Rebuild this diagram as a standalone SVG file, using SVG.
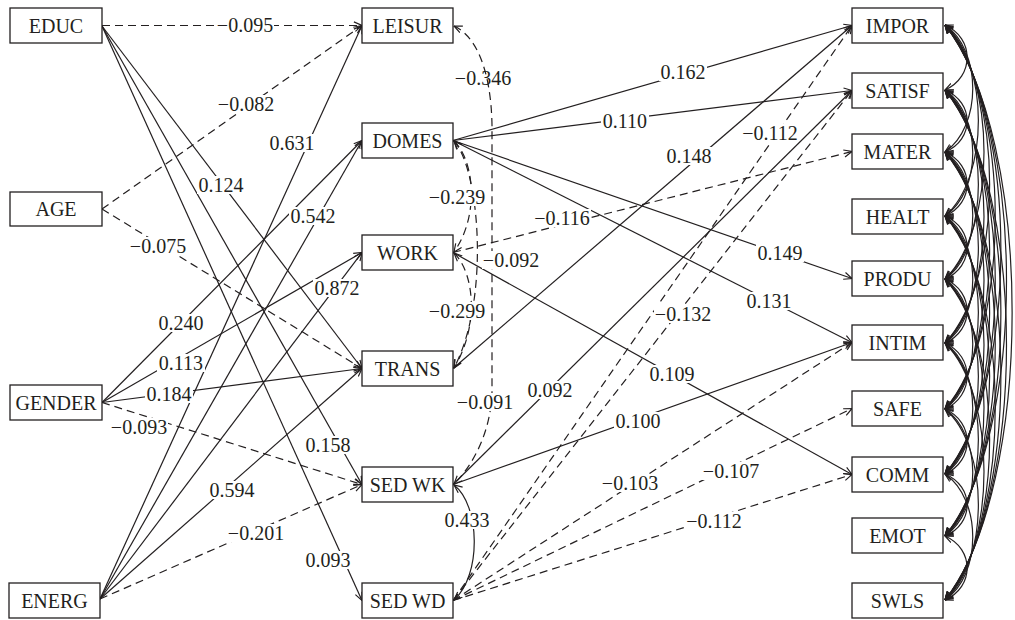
<svg xmlns="http://www.w3.org/2000/svg" width="1015" height="620" viewBox="0 0 1015 620">
<style>
.box{fill:#fff;stroke:#231f20;stroke-width:1.3}
.nt{font-family:"Liberation Serif","Times New Roman",serif;font-size:20px;fill:#231f20;text-anchor:middle}
.e{fill:none;stroke:#231f20;stroke-width:1.2;marker-end:url(#ah)}
.d{stroke-dasharray:8 5}
.b{marker-start:url(#ah)}
.lb{fill:#fff}
</style>
<defs>
<marker id="ah" viewBox="0 0 10 10" refX="9.5" refY="5" markerWidth="9" markerHeight="9" markerUnits="userSpaceOnUse" orient="auto-start-reverse">
<path d="M0.5,1 L9.5,5 L0.5,9" fill="none" stroke="#231f20" stroke-width="1.3"/>
</marker>
</defs>
<rect width="1015" height="620" fill="#fff"/>
<g id="connectors">
<path class="e d" d="M102,25.5 L362,25.5"/>
<path class="e" d="M102,26 L362,368.5"/>
<path class="e" d="M102,26 L362,484.5"/>
<path class="e" d="M102,26 L362,600.5"/>
<path class="e d" d="M102,209 L362,25.5"/>
<path class="e d" d="M102,209 L362,368.5"/>
<path class="e" d="M102,402.5 L362,140.5"/>
<path class="e" d="M102,402.5 L362,252.5"/>
<path class="e" d="M102,402.5 L362,368.5"/>
<path class="e d" d="M102,402.5 L362,484.5"/>
<path class="e" d="M100,599 L362,25.5"/>
<path class="e" d="M100,599 L362,140.5"/>
<path class="e" d="M100,599 L362,252.5"/>
<path class="e" d="M100,599 L362,368.5"/>
<path class="e d" d="M100,599 L362,484.5"/>
<path class="e" d="M453,140.5 L852,25.5"/>
<path class="e" d="M453,140.5 L852,90.5"/>
<path class="e" d="M453,140.5 L852,278.5"/>
<path class="e" d="M453,140.5 L852,342.5"/>
<path class="e d" d="M453,252.5 L852,151.5"/>
<path class="e" d="M453,252.5 L852,474.5"/>
<path class="e" d="M453,368.5 L852,25.5"/>
<path class="e" d="M453,484.5 L852,90.5"/>
<path class="e" d="M453,484.5 L852,342.5"/>
<path class="e d" d="M453,600.5 L852,25.5"/>
<path class="e d" d="M453,600.5 L852,90.5"/>
<path class="e d" d="M453,600.5 L852,342.5"/>
<path class="e d" d="M453,600.5 L852,408.5"/>
<path class="e d" d="M453,600.5 L852,474.5"/>
<path class="e d b" d="M454,26 C476,36 491,70 492,125 L492,392 C491,428 476,462 454,484"/>
<path class="e d b" d="M454,141 C474,160 480,215 454,252"/>
<path class="e d b" d="M454,141 C480,170 490,300 454,368"/>
<path class="e d b" d="M454,253 C474,272 480,325 454,368"/>
<path class="e b" d="M454,485 C480,505 482,575 454,600"/>
<path class="e b" d="M945,25 C974.5,38 974.5,77 945,90"/>
<path class="e b" d="M945,25 C982,50.4 982,126.6 945,152"/>
<path class="e b" d="M945,25 C989.5,63.2 989.5,177.8 945,216"/>
<path class="e b" d="M945,25 C997,75.8 997,228.2 945,279"/>
<path class="e b" d="M945,25 C1004.5,88.6 1004.5,279.4 945,343"/>
<path class="e b" d="M945,25 C1012,101.8 1012,332.2 945,409"/>
<path class="e b" d="M945,25 C1019.5,114.8 1019.5,384.2 945,474"/>
<path class="e b" d="M945,25 C1027,127.2 1027,433.8 945,536"/>
<path class="e b" d="M945,25 C1034.5,140 1034.5,485 945,600"/>
<path class="e b" d="M945,90 C974.5,102.4 974.5,139.6 945,152"/>
<path class="e b" d="M945,90 C982,115.2 982,190.8 945,216"/>
<path class="e b" d="M945,90 C989.5,127.8 989.5,241.2 945,279"/>
<path class="e b" d="M945,90 C997,140.6 997,292.4 945,343"/>
<path class="e b" d="M945,90 C1004.5,153.8 1004.5,345.2 945,409"/>
<path class="e b" d="M945,90 C1012,166.8 1012,397.2 945,474"/>
<path class="e b" d="M945,90 C1019.5,179.2 1019.5,446.8 945,536"/>
<path class="e b" d="M945,90 C1027,192 1027,498 945,600"/>
<path class="e b" d="M945,152 C974.5,164.8 974.5,203.2 945,216"/>
<path class="e b" d="M945,152 C982,177.4 982,253.6 945,279"/>
<path class="e b" d="M945,152 C989.5,190.2 989.5,304.8 945,343"/>
<path class="e b" d="M945,152 C997,203.4 997,357.6 945,409"/>
<path class="e b" d="M945,152 C1004.5,216.4 1004.5,409.6 945,474"/>
<path class="e b" d="M945,152 C1012,228.8 1012,459.2 945,536"/>
<path class="e b" d="M945,152 C1019.5,241.6 1019.5,510.4 945,600"/>
<path class="e b" d="M945,216 C974.5,228.6 974.5,266.4 945,279"/>
<path class="e b" d="M945,216 C982,241.4 982,317.6 945,343"/>
<path class="e b" d="M945,216 C989.5,254.6 989.5,370.4 945,409"/>
<path class="e b" d="M945,216 C997,267.6 997,422.4 945,474"/>
<path class="e b" d="M945,216 C1004.5,280 1004.5,472 945,536"/>
<path class="e b" d="M945,216 C1012,292.8 1012,523.2 945,600"/>
<path class="e b" d="M945,279 C974.5,291.8 974.5,330.2 945,343"/>
<path class="e b" d="M945,279 C982,305 982,383 945,409"/>
<path class="e b" d="M945,279 C989.5,318 989.5,435 945,474"/>
<path class="e b" d="M945,279 C997,330.4 997,484.6 945,536"/>
<path class="e b" d="M945,279 C1004.5,343.2 1004.5,535.8 945,600"/>
<path class="e b" d="M945,343 C974.5,356.2 974.5,395.8 945,409"/>
<path class="e b" d="M945,343 C982,369.2 982,447.8 945,474"/>
<path class="e b" d="M945,343 C989.5,381.6 989.5,497.4 945,536"/>
<path class="e b" d="M945,343 C997,394.4 997,548.6 945,600"/>
<path class="e b" d="M945,409 C974.5,422 974.5,461 945,474"/>
<path class="e b" d="M945,409 C982,434.4 982,510.6 945,536"/>
<path class="e b" d="M945,409 C989.5,447.2 989.5,561.8 945,600"/>
<path class="e b" d="M945,474 C974.5,486.4 974.5,523.6 945,536"/>
<path class="e b" d="M945,474 C982,499.2 982,574.8 945,600"/>
<path class="e b" d="M945,536 C974.5,548.8 974.5,587.2 945,600"/>
</g>
<g id="labels">
<rect class="lb" x="216" y="16" width="58" height="18"/><text class="nt" x="245" y="32">−0.095</text>
<rect class="lb" x="217" y="95" width="58" height="18"/><text class="nt" x="246" y="111">−0.082</text>
<rect class="lb" x="268" y="134" width="48" height="18"/><text class="nt" x="292" y="150">0.631</text>
<rect class="lb" x="197" y="176" width="48" height="18"/><text class="nt" x="221" y="192">0.124</text>
<rect class="lb" x="289" y="207" width="48" height="18"/><text class="nt" x="313" y="223">0.542</text>
<rect class="lb" x="129" y="237" width="58" height="18"/><text class="nt" x="158" y="253">−0.075</text>
<rect class="lb" x="313" y="279" width="48" height="18"/><text class="nt" x="337" y="295">0.872</text>
<rect class="lb" x="157" y="314" width="48" height="18"/><text class="nt" x="181" y="330">0.240</text>
<rect class="lb" x="157" y="354" width="48" height="18"/><text class="nt" x="181" y="370">0.113</text>
<rect class="lb" x="145" y="385" width="48" height="18"/><text class="nt" x="169" y="401">0.184</text>
<rect class="lb" x="110" y="418" width="58" height="18"/><text class="nt" x="139" y="434">−0.093</text>
<rect class="lb" x="208" y="481" width="48" height="18"/><text class="nt" x="232" y="497">0.594</text>
<rect class="lb" x="227" y="524" width="58" height="18"/><text class="nt" x="256" y="540">−0.201</text>
<rect class="lb" x="304" y="436" width="48" height="18"/><text class="nt" x="328" y="452">0.158</text>
<rect class="lb" x="304" y="551" width="48" height="18"/><text class="nt" x="328" y="567">0.093</text>
<text class="nt" x="483" y="85">−0.346</text>
<rect class="lb" x="428" y="188" width="58" height="18"/><text class="nt" x="457" y="204">−0.239</text>
<rect class="lb" x="482" y="251" width="58" height="18"/><text class="nt" x="511" y="267">−0.092</text>
<rect class="lb" x="428" y="302" width="58" height="18"/><text class="nt" x="457" y="318">−0.299</text>
<rect class="lb" x="456" y="393" width="58" height="18"/><text class="nt" x="485" y="409">−0.091</text>
<rect class="lb" x="443" y="511" width="48" height="18"/><text class="nt" x="467" y="527">0.433</text>
<rect class="lb" x="659" y="63" width="48" height="18"/><text class="nt" x="683" y="79">0.162</text>
<rect class="lb" x="601" y="112" width="48" height="18"/><text class="nt" x="625" y="128">0.110</text>
<rect class="lb" x="665" y="147" width="48" height="18"/><text class="nt" x="689" y="163">0.148</text>
<rect class="lb" x="741" y="124" width="58" height="18"/><text class="nt" x="770" y="140">−0.112</text>
<rect class="lb" x="533" y="209" width="58" height="18"/><text class="nt" x="562" y="225">−0.116</text>
<rect class="lb" x="756" y="244" width="48" height="18"/><text class="nt" x="780" y="260">0.149</text>
<rect class="lb" x="745" y="292" width="48" height="18"/><text class="nt" x="769" y="308">0.131</text>
<rect class="lb" x="654" y="305" width="58" height="18"/><text class="nt" x="683" y="321">−0.132</text>
<rect class="lb" x="648" y="365" width="48" height="18"/><text class="nt" x="672" y="381">0.109</text>
<rect class="lb" x="526" y="381" width="48" height="18"/><text class="nt" x="550" y="397">0.092</text>
<rect class="lb" x="614" y="412" width="48" height="18"/><text class="nt" x="638" y="428">0.100</text>
<rect class="lb" x="601" y="474" width="58" height="18"/><text class="nt" x="630" y="490">−0.103</text>
<rect class="lb" x="702" y="462" width="58" height="18"/><text class="nt" x="731" y="478">−0.107</text>
<rect class="lb" x="685" y="512" width="58" height="18"/><text class="nt" x="714" y="528">−0.112</text>
</g>
<g id="EDUC"><rect class="box" x="10" y="8" width="92" height="35"/><text class="nt" x="56" y="33">EDUC</text></g>
<g id="AGE"><rect class="box" x="10" y="192" width="92" height="34"/><text class="nt" x="56" y="216">AGE</text></g>
<g id="GENDER"><rect class="box" x="10" y="385" width="92" height="35"/><text class="nt" x="56" y="410">GENDER</text></g>
<g id="ENERG"><rect class="box" x="9" y="583" width="91" height="35"/><text class="nt" x="54.5" y="608">ENERG</text></g>
<g id="LEISUR"><rect class="box" x="362" y="8" width="91" height="35"/><text class="nt" x="407.5" y="33">LEISUR</text></g>
<g id="DOMES"><rect class="box" x="362" y="123" width="91" height="35"/><text class="nt" x="407.5" y="148">DOMES</text></g>
<g id="WORK"><rect class="box" x="362" y="235" width="91" height="35"/><text class="nt" x="407.5" y="260">WORK</text></g>
<g id="TRANS"><rect class="box" x="362" y="351" width="91" height="35"/><text class="nt" x="407.5" y="376">TRANS</text></g>
<g id="SEDWK"><rect class="box" x="362" y="467" width="91" height="35"/><text class="nt" x="407.5" y="492">SED WK</text></g>
<g id="SEDWD"><rect class="box" x="362" y="583" width="91" height="35"/><text class="nt" x="407.5" y="608">SED WD</text></g>
<g id="IMPOR"><rect class="box" x="852" y="8" width="91" height="35"/><text class="nt" x="897.5" y="33">IMPOR</text></g>
<g id="SATISF"><rect class="box" x="852" y="73" width="91" height="35"/><text class="nt" x="897.5" y="98">SATISF</text></g>
<g id="MATER"><rect class="box" x="852" y="134" width="91" height="35"/><text class="nt" x="897.5" y="159">MATER</text></g>
<g id="HEALT"><rect class="box" x="852" y="199" width="91" height="35"/><text class="nt" x="897.5" y="224">HEALT</text></g>
<g id="PRODU"><rect class="box" x="852" y="261" width="91" height="35"/><text class="nt" x="897.5" y="286">PRODU</text></g>
<g id="INTIM"><rect class="box" x="852" y="325" width="91" height="35"/><text class="nt" x="897.5" y="350">INTIM</text></g>
<g id="SAFE"><rect class="box" x="852" y="391" width="91" height="35"/><text class="nt" x="897.5" y="416">SAFE</text></g>
<g id="COMM"><rect class="box" x="852" y="457" width="91" height="35"/><text class="nt" x="897.5" y="482">COMM</text></g>
<g id="EMOT"><rect class="box" x="852" y="518" width="91" height="35"/><text class="nt" x="897.5" y="543">EMOT</text></g>
<g id="SWLS"><rect class="box" x="852" y="583" width="91" height="35"/><text class="nt" x="897.5" y="608">SWLS</text></g>
</svg>
